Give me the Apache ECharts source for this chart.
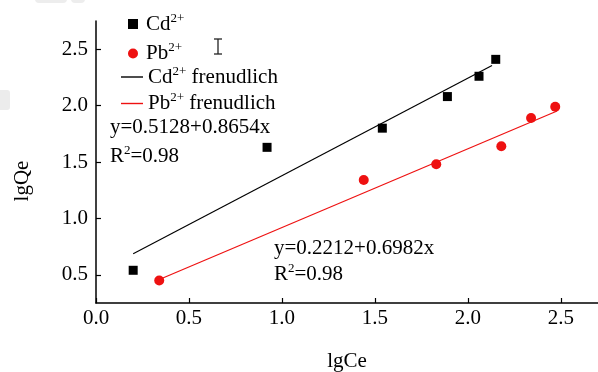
<!DOCTYPE html>
<html>
<head>
<meta charset="utf-8">
<script src="https://cdn.jsdelivr.net/npm/echarts@6/dist/echarts.min.js"></script>
<style>
  html, body { margin: 0; padding: 0; background: #fff; }
  #chart { width: 598px; height: 372px; }
</style>
</head>
<body>
<div id="chart"></div>
<script>
// Freundlich isotherm data (lgCe vs lgQe)
const cdLgCe = [0.20, 0.92, 1.54, 1.89, 2.06, 2.15];
const cdLgQe = [0.54, 1.63, 1.80, 2.08, 2.26, 2.41];
const pbLgCe = [0.34, 1.44, 1.83, 2.18, 2.34, 2.47];
const pbLgQe = [0.45, 1.34, 1.48, 1.64, 1.89, 1.99];

// Fitted lines: y = intercept + slope * x, drawn over the x span of each fit
const fitIntercept = [0.5128, 0.2212];
const fitSlope = [0.8654, 0.6982];
const fitXRange = [[0.20, 2.13], [0.35, 2.48]];
const fitR2 = ['0.98', '0.98'];

// Axis ticks
const xTicks = [0, 0.5, 1.0, 1.5, 2.0, 2.5];
const yTicks = [0.5, 1.0, 1.5, 2.0, 2.5];

const FONT = '"Liberation Serif", "Times New Roman", serif';
const RED = '#ee1111';

const zip = (xs, ys) => xs.map((x, i) => [x, ys[i]]);
const fitLine = (k) => fitXRange[k].map(x => [x, fitIntercept[k] + fitSlope[k] * x]);
const eqText = (k) => 'y=' + fitIntercept[k].toFixed(4) + '+' + fitSlope[k].toFixed(4) + 'x';

const richBase = {
  a: { fontFamily: FONT, fontSize: 21, color: '#000', lineHeight: 24, padding: [0, 0, 0, 3] },
  b: { fontFamily: FONT, fontSize: 21, color: '#000', lineHeight: 24 },
  s: { fontFamily: FONT, fontSize: 13, color: '#000', lineHeight: 13, verticalAlign: 'top' }
};
const supName = (name) => {
  const m = name.match(/^(\w+)2\+(.*)$/);
  return '{a|' + m[1] + '}{s|2+}' + (m[2] ? '{b|' + m[2] + '}' : '');
};

const chart = echarts.init(document.getElementById('chart'), null, { renderer: 'canvas' });

const axisCommon = {
  axisLine: { show: true, lineStyle: { color: '#000', width: 1.5 } },
  axisTick: { show: true, inside: true, length: 5, lineStyle: { color: '#000', width: 1.2 } },
  splitLine: { show: false }
};

const eqGraphic = (k, x, y1, y2) => ([
  { type: 'text', left: x, top: y1 - 12, style: { text: eqText(k), font: '21px ' + FONT, fill: '#000' } },
  {
    type: 'text', left: x, top: y2 - 12,
    style: {
      text: '{b|R}{s|2}{b|=' + fitR2[k] + '}',
      rich: richBase
    }
  }
]);

chart.setOption({
  animation: false,
  backgroundColor: '#fff',
  grid: { left: 96, right: 0, top: 21, bottom: 69, containLabel: false, outerBoundsMode: 'none' },
  xAxis: Object.assign({
    type: 'value', min: 0, max: 2.7,
    name: 'lgCe', nameLocation: 'middle', nameGap: 48,
    nameTextStyle: { fontFamily: FONT, fontSize: 21, color: '#000' },
    axisLabel: {
      customValues: xTicks, margin: 5,
      fontFamily: FONT, fontSize: 21, color: '#000',
      formatter: v => v.toFixed(1)
    }
  }, axisCommon, {
    axisTick: Object.assign({}, axisCommon.axisTick, { customValues: xTicks })
  }),
  yAxis: Object.assign({
    type: 'value', min: 0.25, max: 2.75,
    axisLabel: {
      customValues: yTicks, margin: 8,
      fontFamily: FONT, fontSize: 21, color: '#000',
      formatter: v => v.toFixed(1)
    }
  }, axisCommon, {
    axisTick: Object.assign({}, axisCommon.axisTick, { customValues: yTicks })
  }),
  legend: [
    {
      orient: 'vertical', left: 128, top: 12, itemGap: 7, padding: 0,
      itemWidth: 10, itemHeight: 10,
      data: [
        { name: 'Cd2+', icon: 'rect' },
        { name: 'Pb2+', icon: 'circle' }
      ],
      formatter: supName,
      textStyle: { rich: richBase }
    },
    {
      orient: 'vertical', left: 121, top: 65, itemGap: 4, padding: 0,
      itemWidth: 22, itemHeight: 1.4,
      data: [
        { name: 'Cd2+ frenudlich', icon: 'rect' },
        { name: 'Pb2+ frenudlich', icon: 'rect' }
      ],
      formatter: supName,
      textStyle: { rich: Object.assign({}, richBase, { a: Object.assign({}, richBase.a, { padding: 0 }) }) }
    }
  ],
  series: [
    {
      name: 'Cd2+', type: 'scatter', symbol: 'rect', symbolSize: 9,
      itemStyle: { color: '#000', opacity: 1 },
      data: zip(cdLgCe, cdLgQe), z: 3
    },
    {
      name: 'Pb2+', type: 'scatter', symbol: 'circle', symbolSize: 10,
      itemStyle: { color: RED, opacity: 1 },
      data: zip(pbLgCe, pbLgQe), z: 3
    },
    {
      name: 'Cd2+ frenudlich', type: 'line', symbol: 'none', showSymbol: false,
      lineStyle: { color: '#000', width: 1.2 }, itemStyle: { color: '#000' },
      data: fitLine(0), z: 2
    },
    {
      name: 'Pb2+ frenudlich', type: 'line', symbol: 'none', showSymbol: false,
      lineStyle: { color: RED, width: 1.2 }, itemStyle: { color: RED },
      data: fitLine(1), z: 2
    }
  ],
  graphic: [
    // faint marks in the upper-left margin
    { type: 'rect', shape: { x: 35, y: -6, width: 32, height: 9, r: 4 }, style: { fill: '#ededed' }, silent: true },
    { type: 'rect', shape: { x: 71, y: -6, width: 14, height: 9, r: 4 }, style: { fill: '#ededed' }, silent: true },
    { type: 'rect', shape: { x: -4, y: 90, width: 14, height: 20, r: 3 }, style: { fill: '#ececec' }, silent: true },
    // I-beam glyph next to the legend
    { type: 'line', shape: { x1: 218, y1: 39, x2: 218, y2: 54 }, style: { stroke: '#222', lineWidth: 1.3 } },
    { type: 'line', shape: { x1: 214, y1: 39, x2: 222, y2: 39 }, style: { stroke: '#222', lineWidth: 1.3 } },
    { type: 'line', shape: { x1: 214, y1: 54, x2: 222, y2: 54 }, style: { stroke: '#222', lineWidth: 1.3 } },
    // y-axis title
    {
      type: 'text', x: 22, y: 181, rotation: Math.PI / 2,
      style: { text: 'lgQe', font: '21px ' + FONT, fill: '#000', align: 'center', verticalAlign: 'middle' }
    }
  ].concat(eqGraphic(0, 110, 129, 156), eqGraphic(1, 274, 250, 274))
});
</script>
</body>
</html>
